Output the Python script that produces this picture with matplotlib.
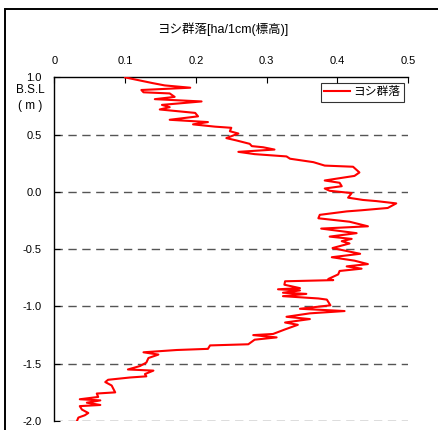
import matplotlib
matplotlib.use("Agg")
import matplotlib.pyplot as plt
from matplotlib.patches import Rectangle

plt.rcParams['font.family'] = ['Liberation Sans', 'Noto Sans CJK JP']
plt.rcParams['axes.unicode_minus'] = False

# elevation (m, B.S.L) and area (ha per 1cm of elevation)
elev = [1.00, 0.95, 0.93, 0.91, 0.89, 0.87, 0.86, 0.83, 0.81, 0.79,
        0.76, 0.74, 0.72, 0.69, 0.66, 0.63, 0.61, 0.59, 0.57, 0.56,
        0.53, 0.51, 0.47, 0.45, 0.42, 0.40, 0.39, 0.37, 0.35, 0.33,
        0.31, 0.29, 0.26, 0.23, 0.22, 0.17, 0.14, 0.10, 0.08, 0.05,
        0.03, 0.01, -0.01, -0.05, -0.07, -0.08, -0.10, -0.14, -0.16, -0.17,
        -0.20, -0.23, -0.26, -0.30, -0.32, -0.36, -0.39, -0.41, -0.43, -0.45,
        -0.49, -0.54, -0.57, -0.60, -0.63, -0.65, -0.67, -0.69, -0.72, -0.76,
        -0.77, -0.78, -0.81, -0.84, -0.85, -0.86, -0.88, -0.89, -0.91, -0.93,
        -0.94, -0.99, -1.02, -1.04, -1.06, -1.09, -1.11, -1.14, -1.16, -1.20,
        -1.24, -1.25, -1.27, -1.29, -1.33, -1.34, -1.37, -1.38, -1.40, -1.42,
        -1.45, -1.49, -1.52, -1.55, -1.56, -1.59, -1.61, -1.62, -1.64, -1.66,
        -1.69, -1.75, -1.76, -1.79, -1.81, -1.82, -1.84, -1.86, -1.87, -1.90,
        -1.93, -1.95, -1.97, -2.00]
area = [0.100, 0.139, 0.156, 0.192, 0.123, 0.126, 0.163, 0.170, 0.142, 0.208,
        0.152, 0.163, 0.149, 0.199, 0.203, 0.163, 0.217, 0.196, 0.227, 0.250,
        0.248, 0.260, 0.243, 0.257, 0.276, 0.279, 0.295, 0.311, 0.260, 0.283,
        0.328, 0.333, 0.366, 0.382, 0.422, 0.431, 0.424, 0.382, 0.403, 0.406,
        0.382, 0.389, 0.420, 0.415, 0.436, 0.455, 0.483, 0.471, 0.434, 0.413,
        0.375, 0.373, 0.417, 0.443, 0.377, 0.427, 0.389, 0.420, 0.406, 0.417,
        0.393, 0.432, 0.392, 0.424, 0.443, 0.413, 0.434, 0.403, 0.401, 0.387,
        0.394, 0.326, 0.325, 0.347, 0.316, 0.347, 0.323, 0.356, 0.323, 0.373,
        0.385, 0.390, 0.347, 0.410, 0.361, 0.328, 0.361, 0.326, 0.344, 0.326,
        0.309, 0.281, 0.314, 0.283, 0.274, 0.220, 0.217, 0.173, 0.126, 0.147,
        0.133, 0.130, 0.121, 0.104, 0.140, 0.128, 0.130, 0.107, 0.076, 0.072,
        0.081, 0.086, 0.060, 0.062, 0.036, 0.065, 0.046, 0.065, 0.036, 0.039,
        0.048, 0.043, 0.034, 0.032]

x_ticks = [0, 0.1, 0.2, 0.3, 0.4, 0.5]
x_labels = ['0', '0.1', '0.2', '0.3', '0.4', '0.5']
y_ticks = [1.0, 0.5, 0.0, -0.5, -1.0, -1.5, -2.0]
y_labels = ['1.0', '0.5', '0.0', '-0.5', '-1.0', '-1.5', '-2.0']

fig = plt.figure(figsize=(4.39, 4.30), dpi=100)
ax = fig.add_axes([0.1237, 0.0209, 0.8063, 0.7991])

# outer frame of the original sheet (only top and left edges are on the picture)
fig.patches.append(Rectangle((5 / 439, -0.5), 2.0, 1.5 - 8.5 / 430, transform=fig.transFigure,
                             fill=False, edgecolor='black', linewidth=1.4))

for yv in y_ticks[1:]:
    ax.axhline(yv, color='#555555', linewidth=1.0, linestyle=(0, (6, 4)), zorder=1)

ax.plot(area, elev, color='#ff0000', linewidth=1.5, label='ヨシ群落', zorder=3)

ax.set_xlim(0, 0.5)
ax.set_ylim(-2.0, 1.0)
ax.xaxis.tick_top()
ax.set_xticks(x_ticks)
ax.set_xticklabels(x_labels)
ax.set_yticks(y_ticks)
ax.set_yticklabels(y_labels)
ax.tick_params(axis='x', direction='in', length=4, width=0.8, pad=8, labelsize=8)
ax.tick_params(axis='y', direction='in', length=4, width=0.8, pad=9, labelsize=8)
ax.spines['right'].set_visible(False)
ax.spines['bottom'].set_visible(False)
for s in ['top', 'left']:
    ax.spines[s].set_linewidth(1.0)

fig.text(223 / 439, 1 - 29 / 430, 'ヨシ群落[ha/1cm(標高)]', ha='center', va='center', fontsize=9)
fig.text(30 / 439, 1 - 90 / 430, 'B.S.L', ha='center', va='center', fontsize=8.5)
fig.text(30 / 439, 1 - 106 / 430, '( m )', ha='center', va='center', fontsize=8.5)

leg = ax.legend(loc='upper right', bbox_to_anchor=(0.995, 0.992), fontsize=8.5, frameon=True,
                fancybox=False, borderpad=0.3, handlelength=2.2, handletextpad=0.3,
                borderaxespad=0.2)
leg.get_frame().set_edgecolor('black')
leg.get_frame().set_linewidth(0.8)

fig.savefig('out.png', dpi=100)
